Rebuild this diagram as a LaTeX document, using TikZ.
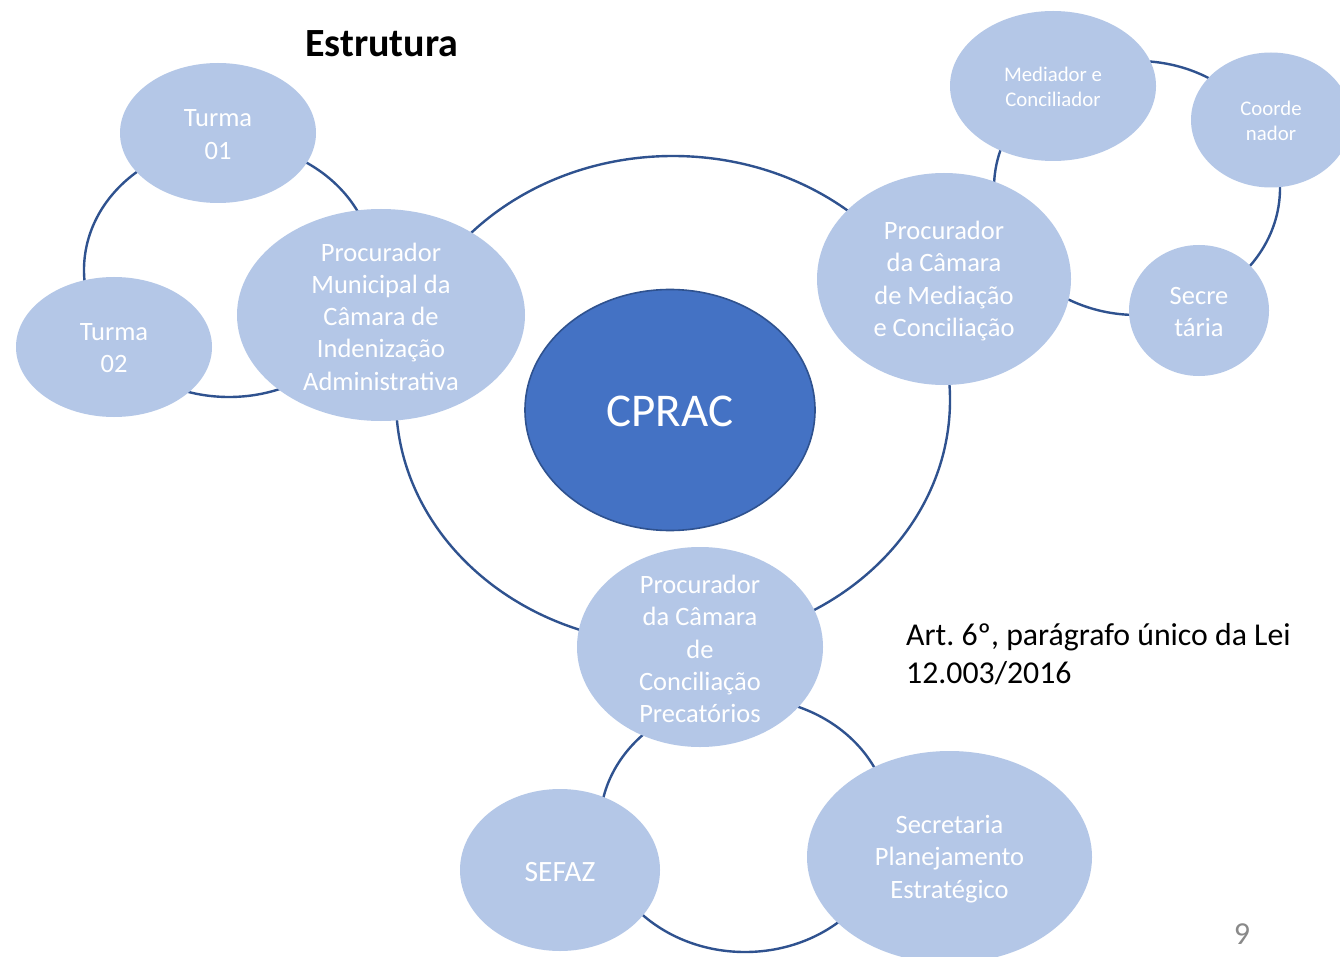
\documentclass[tikz,border=0pt]{standalone}
\usepackage{fontspec}
\setmainfont{Carlito}
\usetikzlibrary{shapes.geometric}
\definecolor{nodefill}{HTML}{B4C7E7}
\definecolor{corefill}{HTML}{4472C4}
\definecolor{ringcol}{HTML}{2F528F}
\definecolor{pagegray}{HTML}{898989}
\tikzset{
  ring/.style={draw=ringcol, line width=2.4pt, ellipse, inner sep=0pt, fill=none},
  blob/.style={ellipse, fill=nodefill, draw=none, inner sep=0pt},
  core/.style={ellipse, fill=corefill, draw=ringcol, line width=1.6pt, inner sep=0pt},
  btxt/.style={text=white, align=center, inner sep=0pt, font=\fontsize{26.5}{32.3}\selectfont},
  stxt/.style={text=white, align=center, inner sep=0pt, font=\fontsize{20.8}{25.6}\selectfont},
}
\frenchspacing
\begin{document}
\begin{tikzpicture}[x=1pt,y=-1pt]
\useasboundingbox[fill=white] (0,0) rectangle (1340,957);
% connector rings
\node[ring, minimum width=554, minimum height=488] (bigring) at (673,400) {};
\node[ring, minimum width=290, minimum height=254] (turmaring) at (229,270) {};
\node[ring, minimum width=286, minimum height=254] (medring) at (1137,188) {};
\node[ring, minimum width=290, minimum height=254] (botring) at (745,825) {};
% nodes
\node[blob, minimum width=196, minimum height=140] (t1) at (218,133) {};
\node[btxt] at ([yshift=-1.5]t1.center) {Turma\\01};
\node[blob, minimum width=196, minimum height=140] (t2) at (114,347) {};
\node[btxt] at ([yshift=-1]t2.center) {Turma\\02};
\node[blob, minimum width=288, minimum height=212] (pm) at (381,315) {};
\node[btxt] at ([yshift=-1.5]pm.center) {Procurador\\Municipal da\\Câmara de\\Indenização\\Administrativa};
\node[core, minimum width=290, minimum height=241] (cprac) at (670,410) {};
\node[text=white, inner sep=0pt, font=\fontsize{47}{56}\selectfont] at ([yshift=-1.5]cprac.center) {CPRAC};
\node[blob, minimum width=254, minimum height=212] (pmc) at (944,279) {};
\node[btxt] at ([yshift=-2]pmc.center) {Procurador\\da Câmara\\de Mediação\\e Conciliação};
\node[blob, minimum width=206, minimum height=150] (med) at (1053,86) {};
\node[stxt] at ([yshift=-1]med.center) {Mediador e\\Conciliador};
\node[blob, minimum width=160, minimum height=135] (coord) at (1271,120) {};
\node[stxt] at ([yshift=-1]coord.center) {Coorde\\nador};
\node[blob, minimum width=140, minimum height=131] (sec) at (1199,310.5) {};
\node[btxt] at ([yshift=-1.5]sec.center) {Secre\\tária};
\node[blob, minimum width=246, minimum height=200] (prec) at (700,647) {};
\node[btxt] at ([yshift=-2]prec.center) {Procurador\\da Câmara\\de\\Conciliação\\Precatórios};
\node[blob, minimum width=200, minimum height=162] (sefaz) at (560,870) {};
\node[text=white, inner sep=0pt, font=\fontsize{29.5}{36}\selectfont] at ([yshift=-2]sefaz.center) {SEFAZ};
\node[blob, minimum width=285, minimum height=212] (seplan) at (949.5,857) {};
\node[btxt] at ([yshift=-2]seplan.center) {Secretaria\\Planejamento\\Estratégico};
% texts
\node[anchor=base west, inner sep=0pt, font=\fontsize{40}{48}\bfseries] (title) at (305,57) {Estrutura};
\node[anchor=base west, align=left, inner sep=0pt, font=\fontsize{31.8}{37.5}\selectfont] (art) at (906,683) {Art. 6º, parágrafo único da Lei\\12.003/2016};
\node[anchor=base, inner sep=0pt, text=pagegray, font=\fontsize{32}{38}\selectfont] (page) at (1242,944) {9};
\end{tikzpicture}
\end{document}
